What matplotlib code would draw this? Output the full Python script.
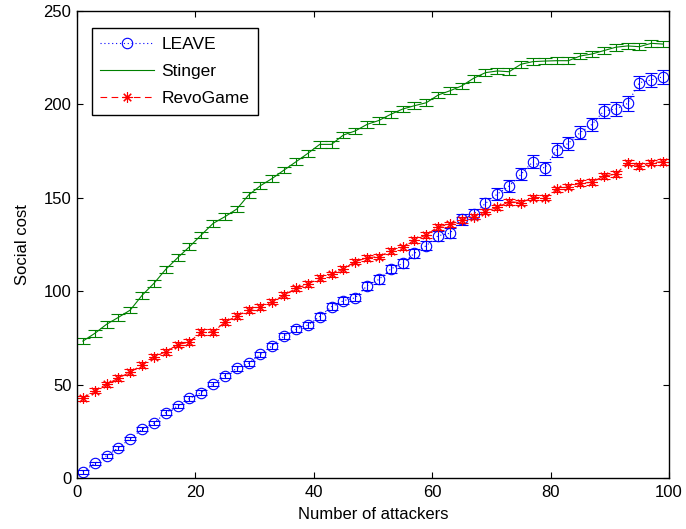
import numpy as np
import matplotlib
matplotlib.use("Agg")
import matplotlib.pyplot as plt
from matplotlib.lines import Line2D

plt.rcParams['font.family'] = ['Liberation Sans', 'DejaVu Sans']

# Number of attackers (odd counts from 1 to 99)
attackers = np.arange(1, 100, 2)

leave = [3.4, 7.8, 11.9, 16.1, 21.1, 26.1, 29.3, 35.0, 38.5, 42.6,
         45.7, 50.3, 54.8, 58.7, 61.4, 66.2, 70.8, 76.0, 79.6, 81.9,
         86.4, 91.7, 94.9, 96.5, 102.9, 106.3, 111.9, 114.9, 120.3, 124.4,
         129.7, 131.0, 138.5, 141.3, 147.0, 152.0, 156.3, 162.6, 169.3, 165.8,
         175.6, 179.2, 184.9, 189.3, 196.5, 197.5, 200.5, 211.6, 213.1, 214.8]
leave_err = [1.0, 1.0, 1.0, 1.0, 1.0, 1.0, 1.0, 1.2, 1.2, 1.2,
             1.3, 1.3, 1.4, 1.4, 1.5, 1.5, 1.5, 1.6, 1.6, 1.7,
             1.8, 1.8, 1.9, 2.0, 2.0, 2.2, 2.2, 2.4, 2.4, 2.5,
             2.6, 2.6, 2.8, 2.8, 3.0, 3.0, 3.2, 3.2, 3.4, 3.4,
             3.5, 3.5, 3.6, 3.6, 3.8, 3.8, 3.8, 3.8, 3.8, 3.8]

stinger = [73.3, 77.4, 82.3, 86.0, 89.9, 97.8, 104.2, 111.7, 117.9, 123.8,
           130.1, 136.3, 139.9, 144.0, 151.5, 156.5, 160.4, 164.9, 169.3, 173.8,
           178.6, 178.6, 183.6, 185.8, 189.3, 191.4, 194.7, 197.5, 199.3, 200.9,
           205.0, 207.3, 209.9, 214.0, 217.0, 217.9, 217.5, 221.5, 222.9, 223.2,
           223.4, 223.4, 225.9, 227.0, 228.8, 230.6, 231.3, 230.9, 232.7, 232.3]
stinger_err = [1.8] * 50

revogame = [42.6, 46.8, 50.1, 53.5, 56.7, 60.5, 65.0, 67.5, 71.4, 72.8,
            78.2, 78.2, 83.5, 86.7, 89.9, 91.7, 94.4, 98.0, 101.5, 103.7,
            107.2, 109.0, 111.9, 115.8, 117.9, 118.5, 121.5, 123.5, 127.4, 130.1,
            134.5, 135.8, 138.1, 139.9, 142.6, 144.9, 147.9, 147.4, 150.1, 150.1,
            154.5, 156.0, 157.8, 158.3, 161.7, 162.6, 168.8, 167.0, 168.8, 169.3]
revogame_err = [1.5] * 50

series_names = ["LEAVE", "Stinger", "RevoGame"]

BLUE = (0, 0, 1)
GREEN = (0, 0.5, 0)
RED = (1, 0, 0)
ASTERISK = (8, 2, 0)

fig = plt.figure(figsize=(6.86, 5.29), dpi=100)
ax = fig.add_axes([0.1122, 0.0964, 0.8630, 0.8828])

lw = 0.8
ax.errorbar(attackers, leave, yerr=leave_err, color=BLUE, linestyle=(0, (1, 2.5)),
            linewidth=lw, marker='o', markersize=7.5, markerfacecolor='none',
            markeredgecolor=BLUE, markeredgewidth=lw, elinewidth=lw,
            capsize=4.5, capthick=lw)
ax.errorbar(attackers, stinger, yerr=stinger_err, color=GREEN, linestyle='-',
            linewidth=lw, elinewidth=lw, capsize=5, capthick=lw)
ax.errorbar(attackers, revogame, yerr=revogame_err, color=RED, linestyle=(0, (6, 4)),
            linewidth=lw, marker=ASTERISK, markersize=7.5, markeredgecolor=RED,
            markeredgewidth=lw, elinewidth=lw, capsize=4.5, capthick=lw)

ax.set_xlim(0, 100)
ax.set_ylim(0, 250)
ax.set_xticks([0, 20, 40, 60, 80, 100])
ax.set_yticks([0, 50, 100, 150, 200, 250])
ax.tick_params(direction='in', top=True, right=True, length=4, width=0.8,
               labelsize=12)
ax.tick_params(axis='x', pad=5)
ax.tick_params(axis='y', pad=4)
for s in ax.spines.values():
    s.set_linewidth(1.0)

ax.set_xlabel("Number of attackers", fontsize=12, labelpad=5)
ax.set_ylabel("Social cost", fontsize=12, labelpad=10)

handles = [
    Line2D([], [], color=BLUE, linestyle=(0, (1, 2.5)), linewidth=lw, marker='o',
           markersize=7.5, markerfacecolor='none', markeredgewidth=lw),
    Line2D([], [], color=GREEN, linestyle='-', linewidth=lw),
    Line2D([], [], color=RED, linestyle=(0, (6, 4)), linewidth=lw, marker=ASTERISK,
           markersize=7.5, markeredgewidth=lw),
]
leg = ax.legend(handles, series_names, loc='upper left', bbox_to_anchor=(0.025, 0.964),
                borderaxespad=0, fontsize=12.5, handlelength=3.1, handletextpad=0.4,
                labelspacing=0.7, numpoints=1, fancybox=False, framealpha=1,
                edgecolor='black', borderpad=0.5)
leg.get_frame().set_linewidth(1.0)

fig.savefig("out.png", dpi=100)
